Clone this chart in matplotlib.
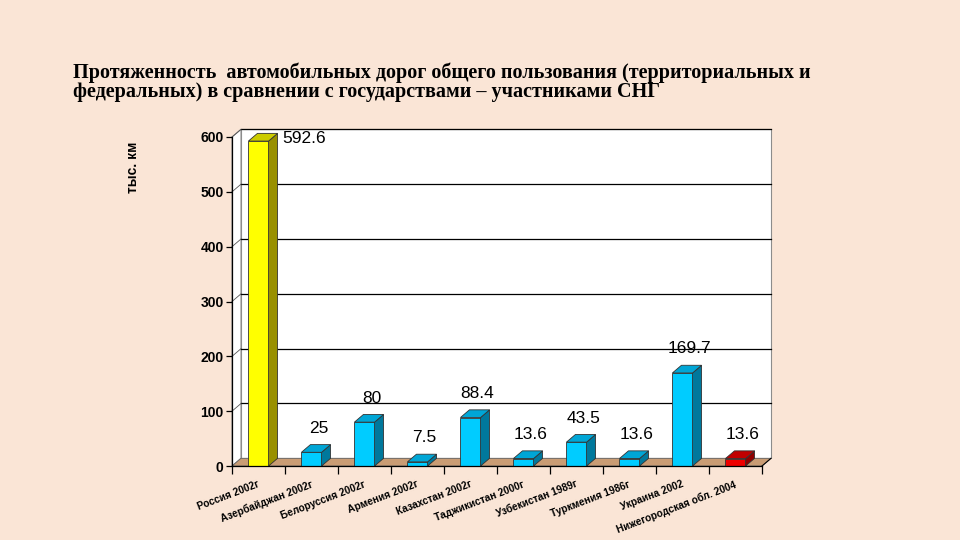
import matplotlib
matplotlib.use("Agg")
import matplotlib.pyplot as plt
from matplotlib.patches import Polygon

# data
countries = ["Россия 2002г", "Азербайджан 2002г", "Белоруссия 2002г", "Армения 2002г",
             "Казахстан 2002г", "Таджикистан 2000г", "Узбекистан 1989г", "Туркмения 1986г",
             "Украина 2002", "Нижегородская обл. 2004"]
length_km = [592.6, 25, 80, 7.5, 88.4, 13.6, 43.5, 13.6, 169.7, 13.6]
value_text = ["592.6", "25", "80", "7.5", "88.4", "13.6", "43.5", "13.6", "169.7", "13.6"]
yticks = [0, 100, 200, 300, 400, 500, 600]
title1 = "Протяженность  автомобильных дорог общего пользования (территориальных и"
title2 = "федеральных) в сравнении с государствами – участниками СНГ"
ylabel = "тыс. км"

bg = "#fae5d6"
floor_col = "#c99c74"
blue = ("#00ccff", "#00a6d6", "#00789c")   # front, top, side
yellow = ("#ffff00", "#cccc00", "#999000")
red = ("#ee0000", "#c00000", "#900000")

fig = plt.figure(figsize=(9.6, 5.4), dpi=100, facecolor=bg)
ax = fig.add_axes([232 / 960, 74 / 540, 530 / 960, 329 / 540])
ax.set_xlim(0, 10)
ax.set_ylim(0, 600)
ax.patch.set_visible(False)

# depth of the fake 3d, in data units
dx, dy = 0.17, 14
n = len(countries)
wall = "#8c8c8c"

# back wall, left wall, floor
ax.add_patch(Polygon([(dx, dy), (n + dx, dy), (n + dx, 600 + dy), (dx, 600 + dy)],
                     closed=True, fc="white", ec=wall, lw=0.8, zorder=0, clip_on=False))
ax.add_patch(Polygon([(0, 0), (dx, dy), (dx, 600 + dy), (0, 600)],
                     closed=True, fc="white", ec=wall, lw=0.8, zorder=0, clip_on=False))
ax.add_patch(Polygon([(0, 0), (n, 0), (n + dx, dy), (dx, dy)],
                     closed=True, fc=floor_col, ec="#666666", lw=0.6, zorder=1, clip_on=False))
for v in yticks[1:]:
    ax.plot([dx, n + dx], [v + dy, v + dy], color="black", lw=0.9, zorder=0.5, clip_on=False)
    ax.plot([0, dx], [v, v + dy], color="#555555", lw=0.6, zorder=0.5, clip_on=False)
ax.plot([n, n + dx], [0, dy], color="black", lw=0.8, zorder=1, clip_on=False)

# bars
width = 0.38
for i, h in enumerate(length_km):
    if i == 0:
        c = yellow
    elif i == n - 1:
        c = red
    else:
        c = blue
    xc = i + 0.5
    x0, x1 = xc - width / 2, xc + width / 2
    ax.bar(xc, h, width=width, color=c[0], edgecolor="#333333", lw=0.6, zorder=3, clip_on=False)
    ax.add_patch(Polygon([(x1, 0), (x1 + dx, dy), (x1 + dx, h + dy), (x1, h)], closed=True,
                         fc=c[2], ec="#333333", lw=0.6, zorder=3, clip_on=False))
    ax.add_patch(Polygon([(x0, h), (x1, h), (x1 + dx, h + dy), (x0 + dx, h + dy)], closed=True,
                         fc=c[1], ec="#333333", lw=0.6, zorder=3, clip_on=False))
    if h > 550:
        ax.text(x1 + dx + 0.08, h + 4, value_text[i], ha="left", va="center",
                fontsize=12.5, family="Liberation Sans", clip_on=False)
    else:
        ax.text(xc + 0.13, h + dy + 30, value_text[i], ha="center", va="center",
                fontsize=12.5, family="Liberation Sans", clip_on=False)
    ax.text(xc - 0.02, -24, countries[i], ha="right", va="top", rotation=21,
            rotation_mode="anchor", fontsize=7.3, fontweight="bold",
            family="Liberation Sans", clip_on=False)

# axes lines and ticks
for s in ["top", "right"]:
    ax.spines[s].set_visible(False)
ax.spines["left"].set_linewidth(0.9)
ax.spines["bottom"].set_linewidth(0.9)
ax.spines["left"].set_zorder(4)
ax.spines["bottom"].set_zorder(4)
ax.set_yticks(yticks)
ax.set_yticklabels([str(v) for v in yticks], fontsize=10, fontweight="bold",
                   family="Liberation Sans")
ax.set_xticks(range(n + 1))
ax.set_xticklabels([])
ax.tick_params(axis="y", length=4, width=0.9, pad=2)
ax.tick_params(axis="x", length=6, width=0.9)

fig.text(133 / 960, 1 - 167 / 540, ylabel, rotation=90, ha="center", va="center",
         fontsize=10, fontweight="bold", family="Liberation Sans")
fig.text(73 / 960, 1 - 73 / 540, title1, ha="left", va="center", fontsize=14.5,
         fontweight="bold", family="Liberation Serif")
fig.text(73 / 960, 1 - 92 / 540, title2, ha="left", va="center", fontsize=14.5,
         fontweight="bold", family="Liberation Serif")

fig.savefig("out.png", dpi=100, facecolor=bg)
